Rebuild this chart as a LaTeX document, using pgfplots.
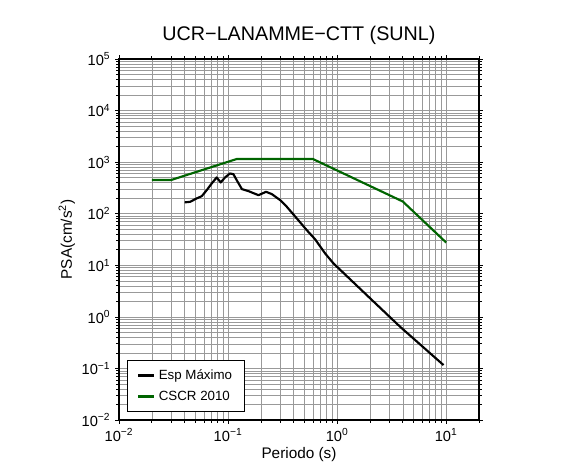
\documentclass[border=0pt]{standalone}
\usepackage{fontspec}
\setmainfont{Liberation Sans}
\usepackage{pgfplots}
\pgfplotsset{compat=1.18}
\definecolor{cscr}{RGB}{0,100,0}
\begin{document}
\begin{tikzpicture}
\path[use as bounding box] (0pt,0pt) rectangle (439.5pt,356.25pt);
\begin{axis}[
  at={(89.25pt,41.25pt)}, anchor=south west,
  scale only axis, width=270pt, height=270.75pt,
  xmode=log, ymode=log, log basis x=10, log basis y=10,
  xmin=0.01, xmax=20, ymin=0.01, ymax=100000,
  axis line style={line width=1pt},
  tick align=outside,
  major tick length=3pt, minor tick length=2pt,
  every tick/.style={black, line width=0.5pt},
  grid=both,
  major grid style={gray!80, line width=0.4pt},
  minor grid style={gray!80, line width=0.4pt},
  xtick={0.01,0.1,1,10},
  minor xtick={0.02,0.03,0.04,0.05,0.06,0.07,0.08,0.09,
               0.2,0.3,0.4,0.5,0.6,0.7,0.8,0.9,
               2,3,4,5,6,7,8,9,20},
  xticklabels={10\textsuperscript{−2},10\textsuperscript{−1},10\textsuperscript{0},10\textsuperscript{1}},
  ytick={0.01,0.1,1,10,100,1000,10000,100000},
  minor ytick={0.02,0.03,0.04,0.05,0.06,0.07,0.08,0.09,
               0.2,0.3,0.4,0.5,0.6,0.7,0.8,0.9,
               2,3,4,5,6,7,8,9,
               20,30,40,50,60,70,80,90,
               200,300,400,500,600,700,800,900,
               2000,3000,4000,5000,6000,7000,8000,9000,
               20000,30000,40000,50000,60000,70000,80000,90000},
  yticklabels={10\textsuperscript{−2},10\textsuperscript{−1},10\textsuperscript{0},10\textsuperscript{1},10\textsuperscript{2},10\textsuperscript{3},10\textsuperscript{4},10\textsuperscript{5}},
  tick label style={font=\fontsize{11}{13}\selectfont},
  xlabel={Periodo (s)},
  ylabel={PSA(cm/s\textsuperscript{2})},
  label style={font=\fontsize{11.5}{13}\selectfont},
  xlabel style={yshift=2pt},
  ylabel style={yshift=-2pt},
  title={UCR−LANAMME−CTT (SUNL)},
  title style={font=\fontsize{14.8}{17}\selectfont, yshift=1pt},
  legend style={at={(0.022,0.022)}, anchor=south west, draw=black, thick,
    font=\fontsize{10}{12}\selectfont, row sep=3pt, inner xsep=7pt, inner ysep=5pt},
  legend cell align=left,
  legend image code/.code={\draw[#1, line width=2.5pt] (0pt,0pt) -- (12pt,0pt);},
]
\addplot[black, line width=1.6pt, line join=round] coordinates {
(0.040,166)(0.0448,170)(0.0516,198)(0.0574,219)(0.0638,287)(0.0708,386)
(0.0787,505)(0.0857,404)(0.0938,505)(0.104,603)(0.112,585)(0.120,448)
(0.134,300)(0.154,274)(0.190,229)(0.223,266)(0.252,240)(0.300,184)
(0.346,136)(0.427,81)(0.527,48)(0.628,32)(0.776,17)(0.925,10.9)
(1.87,2.64)(3.78,0.643)(9.46,0.116)
};
\addlegendentry{Esp Máximo}
\addplot[cscr, line width=1.6pt, line join=round] coordinates {
(0.02,450)(0.03,450)(0.12,1150)(0.6,1150)(4,172.5)(10,27.6)
};
\addlegendentry{CSCR 2010}
\end{axis}
\end{tikzpicture}
\end{document}
